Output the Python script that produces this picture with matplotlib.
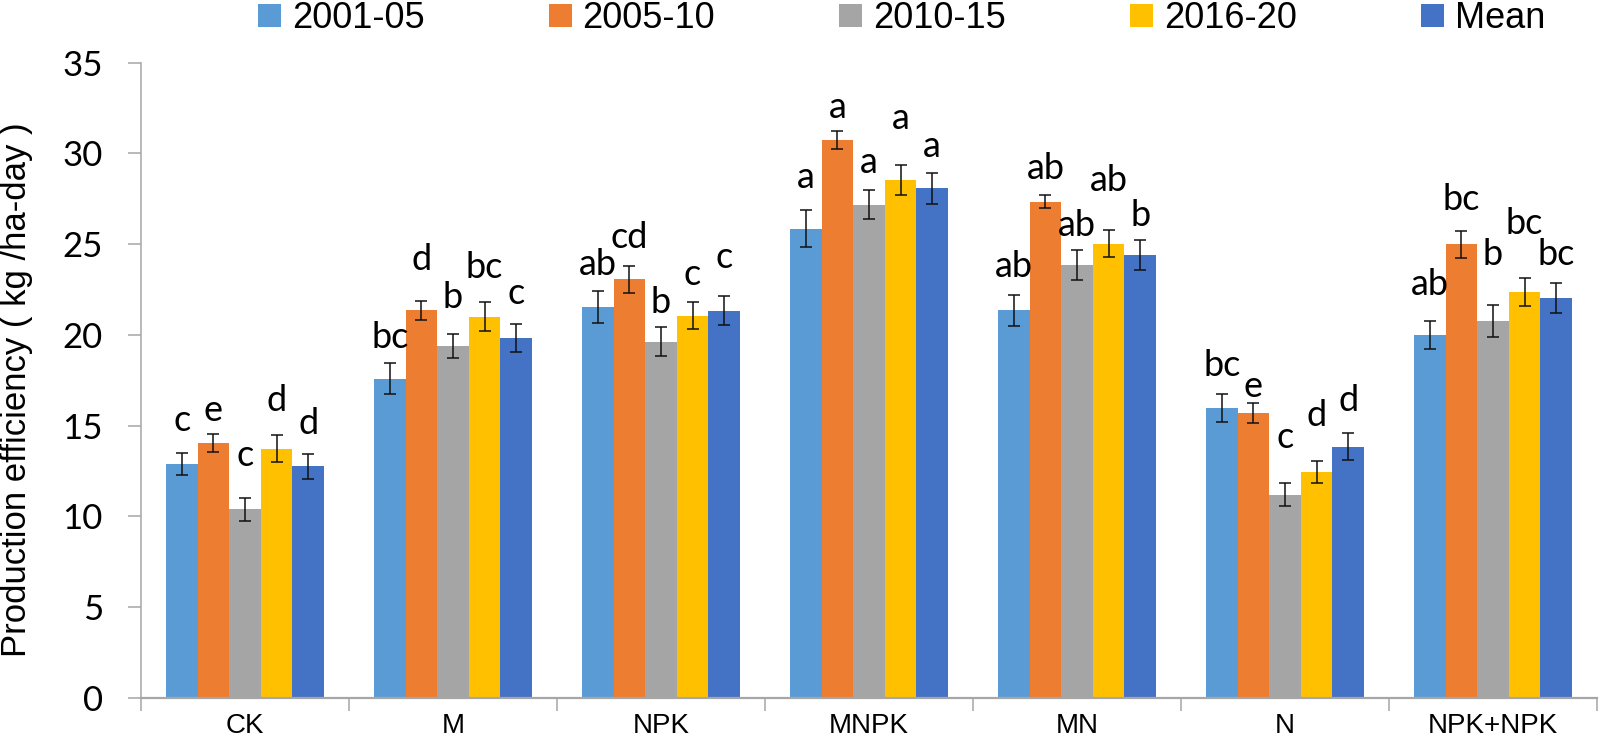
import matplotlib
matplotlib.use("Agg")
import matplotlib.pyplot as plt
import numpy as np

categories = ["CK", "M", "NPK", "MNPK", "MN", "N", "NPK+NPK"]
series_names = ["2001-05", "2005-10", "2010-15", "2016-20", "Mean"]

v_2001_05 = [12.9, 17.6, 21.55, 25.85, 21.35, 16.0, 20.0]
v_2005_10 = [14.03, 21.36, 23.07, 30.74, 27.34, 15.7, 25.0]
v_2010_15 = [10.4, 19.38, 19.64, 27.17, 23.85, 11.2, 20.79]
v_2016_20 = [13.73, 21.0, 21.07, 28.53, 25.02, 12.47, 22.36]
v_mean = [12.78, 19.84, 21.33, 28.09, 24.4, 13.84, 22.03]

e_2001_05 = [0.59, 0.83, 0.87, 1.03, 0.83, 0.77, 0.77]
e_2005_10 = [0.49, 0.53, 0.74, 0.48, 0.35, 0.54, 0.74]
e_2010_15 = [0.63, 0.66, 0.81, 0.79, 0.81, 0.63, 0.88]
e_2016_20 = [0.75, 0.79, 0.74, 0.82, 0.75, 0.60, 0.76]
e_mean = [0.69, 0.76, 0.80, 0.86, 0.82, 0.75, 0.84]

l_2001_05 = ["c", "bc", "ab", "a", "ab", "bc", "ab"]
l_2005_10 = ["e", "d", "cd", "a", "ab", "e", "bc"]
l_2010_15 = ["c", "b", "b", "a", "ab", "c", "b"]
l_2016_20 = ["d", "bc", "c", "a", "ab", "d", "bc"]
l_mean = ["d", "c", "c", "a", "b", "d", "bc"]

# label baseline heights (annotation placement)
lab_y_2001_05 = [14.69, 19.29, 23.3, 28.11, 23.2, 17.72, 22.19]
lab_y_2005_10 = [15.24, 23.6, 24.8, 31.97, 28.57, 16.57, 26.86]
lab_y_2010_15 = [12.8, 21.49, 21.22, 28.9, 25.44, 13.77, 23.88]
lab_y_2016_20 = [15.79, 23.15, 22.78, 31.33, 27.93, 15.0, 25.59]
lab_y_mean = [14.55, 21.68, 23.7, 29.8, 26.0, 15.83, 23.84]

values = [v_2001_05, v_2005_10, v_2010_15, v_2016_20, v_mean]
errors = [e_2001_05, e_2005_10, e_2010_15, e_2016_20, e_mean]
letters = [l_2001_05, l_2005_10, l_2010_15, l_2016_20, l_mean]
lab_ys = [lab_y_2001_05, lab_y_2005_10, lab_y_2010_15, lab_y_2016_20, lab_y_mean]
colors = ["#5B9BD5", "#ED7D31", "#A5A5A5", "#FFC000", "#4472C4"]

W, H = 1600, 746
fig = plt.figure(figsize=(W / 100, H / 100), dpi=100)
left, right, bottom, top = 141 / W, 1597 / W, (H - 698) / H, (H - 62.7) / H
ax = fig.add_axes([left, bottom, right - left, top - bottom])

x = np.arange(len(categories))
bw = 0.152
handles = []
for i in range(5):
    pos = x + (i - 2) * bw
    b = ax.bar(pos, values[i], width=bw, color=colors[i], label=series_names[i],
               yerr=errors[i], error_kw=dict(ecolor="#111111", elinewidth=1.1,
                                             capsize=4.3, capthick=1.1),
               zorder=2)
    handles.append(b)
    for j in range(len(categories)):
        ax.text(pos[j], lab_ys[i][j], letters[i][j], ha="center", va="baseline",
                fontsize=26, family=["Lato", "DejaVu Sans"], color="black")

ax.set_xlim(-0.5, len(categories) - 0.5)
ax.set_ylim(0, 35)
ax.set_yticks(np.arange(0, 36, 5))
ax.tick_params(axis="y", direction="out", length=9.4, width=1.1, color="#A6A6A6",
               labelsize=25, pad=18)
for t in ax.get_yticklabels():
    t.set_family(["Lato", "DejaVu Sans"])
ax.set_xticks(x)
ax.set_xticklabels(categories, fontsize=20, family=["Liberation Sans", "DejaVu Sans"])
ax.tick_params(axis="x", which="major", length=0, pad=11)
ax.set_xticks(np.arange(-0.5, len(categories), 1.0), minor=True)
ax.tick_params(axis="x", which="minor", direction="out", length=9, width=1.1,
               color="#A6A6A6")

for s in ["top", "right"]:
    ax.spines[s].set_visible(False)
ax.spines["left"].set_color("#A6A6A6")
ax.spines["bottom"].set_color("#A6A6A6")
ax.spines["left"].set_linewidth(1.1)
ax.spines["bottom"].set_linewidth(1.6)

ax.set_ylabel("Production efficiency ( kg /ha-day )", fontsize=25,
              family=["Liberation Sans", "DejaVu Sans"])
ax.yaxis.set_label_coords(-0.0742, 0.485)

fs_leg = 26
px_per_fs = fs_leg * 100 / 72
leg = fig.legend(handles=handles, labels=series_names, loc="upper left",
                 bbox_to_anchor=(258 / W, 1 - 1 / H), ncol=5, frameon=False,
                 prop={"family": ["Liberation Sans", "DejaVu Sans"], "size": fs_leg},
                 handlelength=23 / px_per_fs, handleheight=0.62,
                 handletextpad=11 / px_per_fs, columnspacing=124 / px_per_fs,
                 borderpad=0, borderaxespad=0)

fig.savefig("out.png", dpi=100)
